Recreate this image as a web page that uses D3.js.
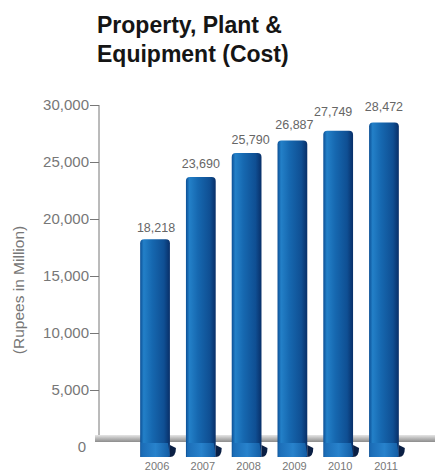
<!DOCTYPE html>
<html><head><meta charset="utf-8">
<script src="https://cdn.jsdelivr.net/npm/d3@7"></script>
<style>body{margin:0;background:#fff}svg{display:block}</style>
</head><body><div id="c"></div>
<script>
const years = ["2006","2007","2008","2009","2010","2011"];
const values = [18218,23690,25790,26887,27749,28472];
const valueLabels = ["18,218","23,690","25,790","26,887","27,749","28,472"];
const yTicks = [0,5000,10000,15000,20000,25000,30000];
const titleLines = ["Property, Plant &","Equipment (Cost)"];
const yTitle = "(Rupees in Million)";

const W=435,H=472;
const FONT="Liberation Sans, Arial, Helvetica, sans-serif";
const svg=d3.select("#c").append("svg").attr("width",W).attr("height",H);
const defs=svg.append("defs");
const g1=defs.append("linearGradient").attr("id","bar").attr("x1","0").attr("x2","1").attr("y1","0").attr("y2","0");
[["0%","#0c4f95"],["12%","#2380c8"],["40%","#1668b0"],["80%","#0f4f93"],["100%","#082f68"]].forEach(s=>g1.append("stop").attr("offset",s[0]).attr("stop-color",s[1]));
const g2=defs.append("linearGradient").attr("id","foot").attr("x1","0").attr("x2","1").attr("y1","0").attr("y2","0");
[["0%","#1a6ab4"],["50%","#2a86d0"],["100%","#1460a8"]].forEach(s=>g2.append("stop").attr("offset",s[0]).attr("stop-color",s[1]));
const g3=defs.append("linearGradient").attr("id","floor").attr("x1","0").attr("x2","0").attr("y1","0").attr("y2","1");
[["0%","#e6e6e6"],["45%","#bcbcbc"],["100%","#8c8c8c"]].forEach(s=>g3.append("stop").attr("offset",s[0]).attr("stop-color",s[1]));

const y=d3.scaleLinear().domain([0,30000]).range([447,105]);
const x=d3.scaleBand().domain(years).range([131,408]).paddingInner(0.35).paddingOuter(0.2);

// title
svg.append("g").selectAll("text").data(titleLines).join("text")
  .attr("x",97).attr("y",(d,i)=>33+i*29)
  .attr("font-family",FONT).attr("font-weight","bold")
  .attr("font-size",23).attr("fill","#151515").text(d=>d);

// y axis
const ax=svg.append("g").attr("transform","translate(99,0)")
  .call(d3.axisLeft(y).tickValues(yTicks).tickFormat(d3.format(",")).tickSize(9).tickSizeOuter(0).tickPadding(1));
ax.select(".domain").attr("stroke","#777").attr("d","M0,"+y(30000)+"V"+(y(0)-11));
ax.selectAll(".tick line").attr("stroke","#777");
ax.selectAll(".tick text").attr("fill","#777").attr("font-size",15).attr("font-family",FONT);
ax.selectAll(".tick").filter(d=>d===0).select("line").remove();
ax.selectAll(".tick").filter(d=>d===0).select("text").attr("dx",-3);

svg.append("text").attr("transform","translate(24,290) rotate(-90)")
  .attr("text-anchor","middle").attr("font-size",15.5).attr("fill","#777")
  .attr("font-family",FONT).text(yTitle);

// floor band
svg.append("rect").attr("x",95).attr("y",y(0)-12).attr("width",W-95).attr("height",7).attr("fill","url(#floor)");

// bars
const bw=x.bandwidth();
const bars=svg.append("g").selectAll("g").data(years).join("g");
bars.append("path").attr("d",(d,i)=>{
  const x0=x(d),x1=x0+bw,t=y(values[i]),b=y(0)+10,r=4;
  return `M${x0},${b}V${t+r}Q${x0},${t} ${x0+r},${t}H${x1-r}Q${x1},${t} ${x1},${t+r}V${b}Z`;
}).attr("fill","url(#bar)");
bars.append("path").attr("d",(d)=>{
  const x0=x(d),x1=x0+bw,b=y(0)+10;
  return `M${x0+1},${y(0)-4}H${x1-2}L${x1},${b-2}Q${x1},${b} ${x1-2},${b}H${x0+1}Z`;
}).attr("fill","url(#foot)").attr("opacity",0.9);
bars.append("path").attr("d",(d)=>{
  const x1=x(d)+bw,b=y(0)+10;
  return `M${x1},${y(0)-2}L${x1+6},${y(0)+1}Q${x1+6},${b} ${x1},${b}Z`;
}).attr("fill","#0a1f44");

// value labels (small layout nudges to match the original placement)
const ldx=[1,0,4,2,-5,0], ldy=[7,9,9,11,15,11];
svg.append("g").selectAll("text").data(years).join("text")
  .attr("x",(d,i)=>x(d)+bw/2+ldx[i]).attr("y",(d,i)=>y(values[i])-ldy[i])
  .attr("text-anchor","middle").attr("font-size",12.5).attr("fill","#666")
  .attr("font-family",FONT).text((d,i)=>valueLabels[i]);

// year labels
svg.append("g").selectAll("text").data(years).join("text")
  .attr("x",d=>x(d)+bw/2+2).attr("y",470)
  .attr("text-anchor","middle").attr("font-size",11).attr("fill","#777")
  .attr("font-family",FONT).text(d=>d);
</script></body></html>
